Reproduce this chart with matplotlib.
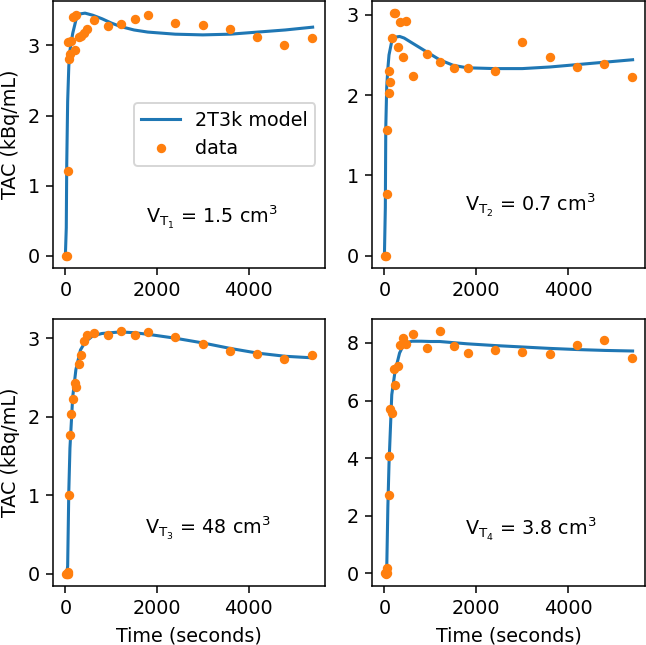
"""Tissue time-activity curves: 2T3k model fit vs data for four regions."""

import matplotlib

matplotlib.use("Agg")

import matplotlib.pyplot as plt
import numpy as np

# frame mid-times of the measured data (seconds)
t_data = np.array([10, 30, 50, 65, 90, 110, 130, 160, 200, 240, 290, 345, 405,
                   470, 615, 925, 1215, 1520, 1810, 2400, 3000, 3600, 4190, 4780, 5380])

data_1 = [0.0, 0.0, 1.21, 3.05, 2.81, 2.88, 3.06, 3.41, 2.93, 3.44, 3.12, 3.13, 3.18,
          3.24, 3.36, 3.28, 3.31, 3.38, 3.44, 3.32, 3.29, 3.24, 3.12, 3.00, 3.10]
data_2 = [0.0, 0.0, 0.77, 1.57, 2.03, 2.30, 2.16, 2.71, 3.02, 3.02, 2.60, 2.91, 2.48,
          2.92, 2.24, 2.51, 2.41, 2.34, 2.34, 2.30, 2.66, 2.47, 2.35, 2.39, 2.23]
data_3 = [0.0, 0.0, 0.0, 0.03, 1.00, 1.77, 2.03, 2.22, 2.43, 2.38, 2.67, 2.78, 2.96,
          3.04, 3.06, 3.04, 3.09, 3.04, 3.08, 3.01, 2.93, 2.84, 2.80, 2.74, 2.79]
data_4 = [0.0, -0.02, 0.20, 0.0, 2.72, 4.06, 5.71, 5.57, 7.08, 6.55, 7.20, 7.92, 8.17,
          7.97, 8.32, 7.84, 8.41, 7.89, 7.65, 7.77, 7.69, 7.61, 7.94, 8.11, 7.48]

# model curve samples (seconds)
t_model = np.array([0, 20, 30, 50, 75, 100, 160, 230, 330, 430, 600, 800, 1000, 1200,
                    1500, 1800, 2400, 3000, 3600, 4200, 4800, 5400])

model_1 = [0.0, 0.4, 1.3, 2.2, 2.7, 2.93, 3.17, 3.36, 3.45, 3.46, 3.43, 3.38, 3.32, 3.27,
           3.22, 3.19, 3.16, 3.15, 3.16, 3.19, 3.22, 3.26]
model_2 = [0.0, 0.6, 1.6, 2.1, 2.33, 2.5, 2.67, 2.72, 2.73, 2.71, 2.65, 2.58, 2.51, 2.44,
           2.37, 2.34, 2.33, 2.33, 2.35, 2.38, 2.41, 2.44]
model_3 = [0.0, 0.0, 0.0, 0.1, 1.05, 1.6, 2.25, 2.6, 2.85, 2.95, 3.03, 3.06, 3.07, 3.08,
           3.07, 3.05, 3.00, 2.94, 2.87, 2.81, 2.77, 2.75]
model_4 = [0.0, 0.0, 0.0, 0.1, 2.3, 3.8, 6.2, 7.0, 7.65, 7.98, 8.06, 8.06, 8.05, 8.05,
           8.01, 7.97, 7.91, 7.86, 7.81, 7.77, 7.74, 7.72]

labels = [r"$\mathregular{V_{T_1}}$ = 1.5 cm$^3$", r"$\mathregular{V_{T_2}}$ = 0.7 cm$^3$",
          r"$\mathregular{V_{T_3}}$ = 48 cm$^3$", r"$\mathregular{V_{T_4}}$ = 3.8 cm$^3$"]

DPI = 138
fig = plt.figure(figsize=(646 / DPI, 645 / DPI), dpi=DPI)

W, H = 646, 645
boxes = [(53, 1, 325, 268), (372, 1, 645, 268), (53, 319, 325, 586), (372, 319, 645, 586)]
text_pos = [(0.585, 0.19), (0.58, 0.236), (0.57, 0.217), (0.58, 0.21)]

models = [model_1, model_2, model_3, model_4]
datas = [data_1, data_2, data_3, data_4]

for i, (x0, y0, x1, y1) in enumerate(boxes):
    ax = fig.add_axes([x0 / W, 1 - y1 / H, (x1 - x0) / W, (y1 - y0) / H])
    ax.plot(t_model, models[i], color="C0", lw=1.6, label="2T3k model")
    ax.plot(t_data, datas[i], "o", color="C1", ms=3.9, label="data")
    ax.text(*text_pos[i], labels[i], transform=ax.transAxes, ha="center", va="center")
    ax.set_xticks([0, 2000, 4000])
    if i in (0, 2):
        ax.set_ylabel("TAC (kBq/mL)")
    if i >= 2:
        ax.set_xlabel("Time (seconds)")
    if i == 3:
        ax.set_yticks([0, 2, 4, 6, 8])
    else:
        ax.set_yticks([0, 1, 2, 3])
    if i == 0:
        ax.legend(loc="center right")

fig.savefig("out.png", dpi=DPI)
